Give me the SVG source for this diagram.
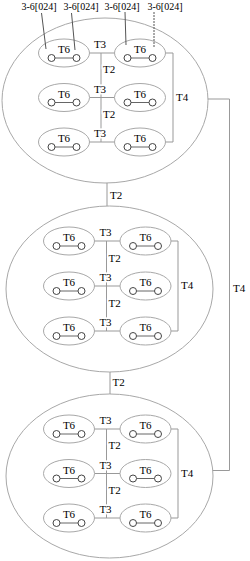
<svg xmlns="http://www.w3.org/2000/svg" width="250" height="561" viewBox="0 0 250 561">
<style>
.big{fill:none;stroke:#a8a8a8;stroke-width:1}
.sm{fill:#fff;stroke:#a8a8a8;stroke-width:1}
.c{fill:#fff;stroke:#444;stroke-width:1}
.cl{stroke:#666;stroke-width:1}
.ln{fill:none;stroke:#999;stroke-width:1}
.ld{fill:none;stroke:#555;stroke-width:1}
text{font-family:"Liberation Serif","Times New Roman",serif;fill:#000}
.t{font-size:11px}
.tm{font-size:11px;text-anchor:middle}
.h{paint-order:stroke;stroke:#fff;stroke-width:3px}
.top{font-size:10px;text-anchor:middle}
</style>
<rect width="250" height="561" fill="#fff"/>
<g id="cluster1"><ellipse class="big" cx="105" cy="100.5" rx="103" ry="82.5"/></g>
<g id="cluster2"><ellipse class="big" cx="109.5" cy="289" rx="103.5" ry="83"/></g>
<g id="cluster3"><ellipse class="big" cx="109.5" cy="476" rx="103.5" ry="82"/></g>
<g id="connectors" class="ln">
<line x1="89.5" y1="53" x2="114.5" y2="53"/>
<line x1="89.5" y1="97.5" x2="114.5" y2="97.5"/>
<line x1="89.5" y1="142" x2="114.5" y2="142"/>
<line x1="101" y1="53" x2="101" y2="142"/>
<polyline points="165.5,53 173,53 173,142 165.5,142"/>
<line x1="94.5" y1="241" x2="120" y2="241"/>
<line x1="94.5" y1="286" x2="120" y2="286"/>
<line x1="94.5" y1="331" x2="120" y2="331"/>
<line x1="106.5" y1="241" x2="106.5" y2="331"/>
<polyline points="171,241 178,241 178,331 171,331"/>
<line x1="94.5" y1="429" x2="120" y2="429"/>
<line x1="94.5" y1="473.5" x2="120" y2="473.5"/>
<line x1="94.5" y1="518" x2="120" y2="518"/>
<line x1="106.5" y1="429" x2="106.5" y2="518"/>
<polyline points="171,429 178,429 178,518 171,518"/>
<line x1="107" y1="183" x2="107" y2="206"/>
<line x1="110" y1="372" x2="110" y2="394"/>
<polyline points="208,99 229.5,99 229.5,470.5 212.8,470.5"/>
</g>
<g id="conn-labels">
<text class="tm h" x="100" y="48">T3</text>
<text class="tm h" x="100" y="92.5">T3</text>
<text class="tm h" x="100" y="137">T3</text>
<text class="t h" x="103" y="73">T2</text>
<text class="t h" x="103" y="118">T2</text>
<text class="t" x="176" y="100.5">T4</text>
<text class="tm h" x="105.5" y="236">T3</text>
<text class="tm h" x="105.5" y="281">T3</text>
<text class="tm h" x="105.5" y="326">T3</text>
<text class="t h" x="108.5" y="261.5">T2</text>
<text class="t h" x="108.5" y="306.5">T2</text>
<text class="t" x="181" y="289">T4</text>
<text class="tm h" x="105.5" y="424">T3</text>
<text class="tm h" x="105.5" y="468.5">T3</text>
<text class="tm h" x="105.5" y="513">T3</text>
<text class="t h" x="108.5" y="449">T2</text>
<text class="t h" x="108.5" y="493.5">T2</text>
<text class="t" x="181" y="476.5">T4</text>
<text class="t" x="110" y="199">T2</text>
<text class="t" x="112.5" y="386">T2</text>
<text class="t" x="233" y="292">T4</text>
<text class="top" x="39" y="10">3-6[024]</text>
<text class="top" x="81" y="10">3-6[024]</text>
<text class="top" x="122" y="10">3-6[024]</text>
<text class="top" x="165" y="10">3-6[024]</text>
</g>
<g id="n1-1"><ellipse class="sm" cx="64" cy="53" rx="25.5" ry="14"/><text class="tm" x="64" y="53">T6</text><line class="cl" x1="55" y1="58" x2="73" y2="58"/><circle class="c" cx="51.5" cy="58" r="3.5"/><circle class="c" cx="76.5" cy="58" r="3.5"/></g>
<g id="n1-2"><ellipse class="sm" cx="140" cy="53" rx="25.5" ry="14"/><text class="tm" x="140" y="53">T6</text><line class="cl" x1="131" y1="58" x2="149" y2="58"/><circle class="c" cx="127.5" cy="58" r="3.5"/><circle class="c" cx="152.5" cy="58" r="3.5"/></g>
<g id="n1-3"><ellipse class="sm" cx="64" cy="97.5" rx="25.5" ry="14"/><text class="tm" x="64" y="97.5">T6</text><line class="cl" x1="55" y1="102.5" x2="73" y2="102.5"/><circle class="c" cx="51.5" cy="102.5" r="3.5"/><circle class="c" cx="76.5" cy="102.5" r="3.5"/></g>
<g id="n1-4"><ellipse class="sm" cx="140" cy="97.5" rx="25.5" ry="14"/><text class="tm" x="140" y="97.5">T6</text><line class="cl" x1="131" y1="102.5" x2="149" y2="102.5"/><circle class="c" cx="127.5" cy="102.5" r="3.5"/><circle class="c" cx="152.5" cy="102.5" r="3.5"/></g>
<g id="n1-5"><ellipse class="sm" cx="64" cy="142" rx="25.5" ry="14"/><text class="tm" x="64" y="142">T6</text><line class="cl" x1="55" y1="147" x2="73" y2="147"/><circle class="c" cx="51.5" cy="147" r="3.5"/><circle class="c" cx="76.5" cy="147" r="3.5"/></g>
<g id="n1-6"><ellipse class="sm" cx="140" cy="142" rx="25.5" ry="14"/><text class="tm" x="140" y="142">T6</text><line class="cl" x1="131" y1="147" x2="149" y2="147"/><circle class="c" cx="127.5" cy="147" r="3.5"/><circle class="c" cx="152.5" cy="147" r="3.5"/></g>
<g id="n2-1"><ellipse class="sm" cx="69" cy="241" rx="25.5" ry="14"/><text class="tm" x="69" y="241">T6</text><line class="cl" x1="60" y1="246" x2="78" y2="246"/><circle class="c" cx="56.5" cy="246" r="3.5"/><circle class="c" cx="81.5" cy="246" r="3.5"/></g>
<g id="n2-2"><ellipse class="sm" cx="145.5" cy="241" rx="25.5" ry="14"/><text class="tm" x="145.5" y="241">T6</text><line class="cl" x1="136.5" y1="246" x2="154.5" y2="246"/><circle class="c" cx="133" cy="246" r="3.5"/><circle class="c" cx="158" cy="246" r="3.5"/></g>
<g id="n2-3"><ellipse class="sm" cx="69" cy="286" rx="25.5" ry="14"/><text class="tm" x="69" y="286">T6</text><line class="cl" x1="60" y1="291" x2="78" y2="291"/><circle class="c" cx="56.5" cy="291" r="3.5"/><circle class="c" cx="81.5" cy="291" r="3.5"/></g>
<g id="n2-4"><ellipse class="sm" cx="145.5" cy="286" rx="25.5" ry="14"/><text class="tm" x="145.5" y="286">T6</text><line class="cl" x1="136.5" y1="291" x2="154.5" y2="291"/><circle class="c" cx="133" cy="291" r="3.5"/><circle class="c" cx="158" cy="291" r="3.5"/></g>
<g id="n2-5"><ellipse class="sm" cx="69" cy="331" rx="25.5" ry="14"/><text class="tm" x="69" y="331">T6</text><line class="cl" x1="60" y1="336" x2="78" y2="336"/><circle class="c" cx="56.5" cy="336" r="3.5"/><circle class="c" cx="81.5" cy="336" r="3.5"/></g>
<g id="n2-6"><ellipse class="sm" cx="145.5" cy="331" rx="25.5" ry="14"/><text class="tm" x="145.5" y="331">T6</text><line class="cl" x1="136.5" y1="336" x2="154.5" y2="336"/><circle class="c" cx="133" cy="336" r="3.5"/><circle class="c" cx="158" cy="336" r="3.5"/></g>
<g id="n3-1"><ellipse class="sm" cx="69" cy="429" rx="25.5" ry="14"/><text class="tm" x="69" y="429">T6</text><line class="cl" x1="60" y1="434" x2="78" y2="434"/><circle class="c" cx="56.5" cy="434" r="3.5"/><circle class="c" cx="81.5" cy="434" r="3.5"/></g>
<g id="n3-2"><ellipse class="sm" cx="145.5" cy="429" rx="25.5" ry="14"/><text class="tm" x="145.5" y="429">T6</text><line class="cl" x1="136.5" y1="434" x2="154.5" y2="434"/><circle class="c" cx="133" cy="434" r="3.5"/><circle class="c" cx="158" cy="434" r="3.5"/></g>
<g id="n3-3"><ellipse class="sm" cx="69" cy="473.5" rx="25.5" ry="14"/><text class="tm" x="69" y="473.5">T6</text><line class="cl" x1="60" y1="478.5" x2="78" y2="478.5"/><circle class="c" cx="56.5" cy="478.5" r="3.5"/><circle class="c" cx="81.5" cy="478.5" r="3.5"/></g>
<g id="n3-4"><ellipse class="sm" cx="145.5" cy="473.5" rx="25.5" ry="14"/><text class="tm" x="145.5" y="473.5">T6</text><line class="cl" x1="136.5" y1="478.5" x2="154.5" y2="478.5"/><circle class="c" cx="133" cy="478.5" r="3.5"/><circle class="c" cx="158" cy="478.5" r="3.5"/></g>
<g id="n3-5"><ellipse class="sm" cx="69" cy="518" rx="25.5" ry="14"/><text class="tm" x="69" y="518">T6</text><line class="cl" x1="60" y1="523" x2="78" y2="523"/><circle class="c" cx="56.5" cy="523" r="3.5"/><circle class="c" cx="81.5" cy="523" r="3.5"/></g>
<g id="n3-6"><ellipse class="sm" cx="145.5" cy="518" rx="25.5" ry="14"/><text class="tm" x="145.5" y="518">T6</text><line class="cl" x1="136.5" y1="523" x2="154.5" y2="523"/><circle class="c" cx="133" cy="523" r="3.5"/><circle class="c" cx="158" cy="523" r="3.5"/></g>
<g id="leaders" class="ld">
<line x1="41.5" y1="13" x2="46" y2="49"/>
<line x1="71.5" y1="13" x2="75" y2="50"/>
<line x1="125" y1="12" x2="126" y2="45"/>
<line x1="154" y1="12" x2="154" y2="47" stroke-dasharray="2,1"/>
</g>
</svg>
